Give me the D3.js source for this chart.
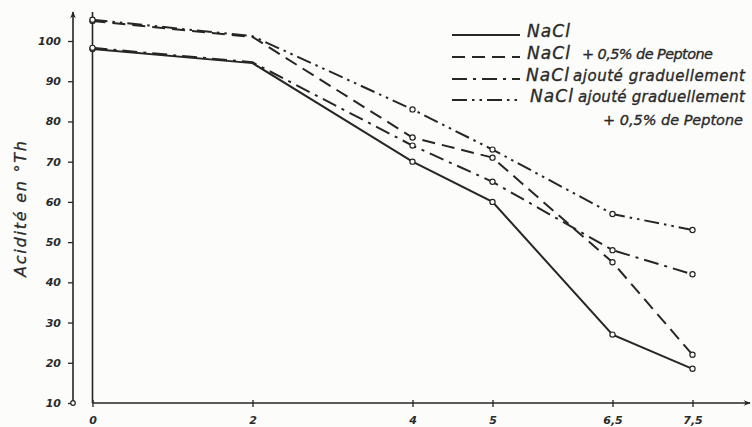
<!DOCTYPE html>
<html>
<head>
<meta charset="utf-8">
<script src="https://cdn.jsdelivr.net/npm/d3@7"></script>
<style>
  html, body { margin: 0; padding: 0; background: #fcfcfa; }
  svg { display: block; }
  text { font-family: "DejaVu Sans", sans-serif; font-style: italic; fill: #2a2a2a; }
</style>
</head>
<body>
<svg id="chart" width="752" height="427"></svg>
<script>
// ---- data ----
const xValues = [0, 2, 4, 5, 6.5, 7.5];
const xTickLabels = ["0", "2", "4", "5", "6,5", "7,5"];
const yTicks = [10, 20, 30, 40, 50, 60, 70, 80, 90, 100];
const seriesNames = ["NaCl", "NaCl + 0,5% de Peptone", "NaCl ajouté graduellement", "NaCl ajouté graduellement + 0,5% de Peptone"];
const naclValues = [98, 94.5, 70, 60, 27, 18.5];
const peptoneValues = [105, 101, 76, 71, 45, 22];
const graduelValues = [98.3, 94.7, 74, 65, 48, 42];
const graduelPeptoneValues = [105.3, 101.2, 83, 73, 57, 53];
const markerShown = [true, false, true, true, true, true];

const svg = d3.select("#chart");
const ink = "#262626";

const x = d3.scaleLinear().domain([0, 7.5]).range([92.5, 692.5]);
const y = d3.scaleLinear().domain([10, 100]).range([403, 41]);

// arrow marker
const defs = svg.append("defs");
defs.append("marker").attr("id", "arrow").attr("viewBox", "0 0 10 10")
  .attr("refX", 9).attr("refY", 5).attr("markerWidth", 9).attr("markerHeight", 7)
  .attr("markerUnits", "userSpaceOnUse").attr("orient", "auto")
  .append("path").attr("d", "M0,1 L10,5 L0,9 L3,5 Z").attr("fill", ink);

// ---- y axis (separate line on the left) ----
const yAxisX = 73;
const yAxis = d3.axisLeft(y).tickValues(yTicks).tickSize(5).tickPadding(7).tickFormat(d3.format("d"));
const gy = svg.append("g").attr("transform", `translate(${yAxisX},0)`).call(yAxis);
gy.select(".domain").remove();
gy.selectAll(".tick line").attr("stroke", ink).attr("stroke-width", 1.3);
gy.selectAll(".tick text").style("font-size", "11px").style("font-weight", "bold")
  .style("font-style", "italic").attr("fill", ink);
svg.append("line").attr("x1", yAxisX).attr("x2", yAxisX).attr("y1", y(10)).attr("y2", 12)
  .attr("stroke", ink).attr("stroke-width", 1.6).attr("marker-end", "url(#arrow)");
svg.append("circle").attr("cx", yAxisX).attr("cy", y(10)).attr("r", 2.3)
  .attr("fill", "#fcfcfa").attr("stroke", ink).attr("stroke-width", 1.2);

// ---- frame left line ----
svg.append("line").attr("x1", x(0)).attr("x2", x(0)).attr("y1", y(10)).attr("y2", 12)
  .attr("stroke", ink).attr("stroke-width", 1.6);

// ---- x axis ----
const xAxis = d3.axisBottom(x).tickValues(xValues).tickSize(4).tickPadding(9)
  .tickFormat((d, i) => xTickLabels[i]);
const gx = svg.append("g").attr("transform", `translate(0,${y(10)})`).call(xAxis);
gx.select(".domain").remove();
gx.selectAll(".tick line").attr("stroke", ink).attr("stroke-width", 1.3).attr("y1", -3);
gx.selectAll(".tick text").style("font-size", "11px").style("font-weight", "bold")
  .style("font-style", "italic").attr("fill", ink);
svg.append("line").attr("x1", x(0)).attr("x2", 750).attr("y1", y(10)).attr("y2", y(10))
  .attr("stroke", ink).attr("stroke-width", 1.6).attr("marker-end", "url(#arrow)");

// ---- y title ----
svg.append("text").attr("transform", `translate(26,209) rotate(-90)`)
  .attr("text-anchor", "middle").style("font-size", "16px")
  .attr("textLength", 136).attr("lengthAdjust", "spacing")
  .attr("stroke", "#2a2a2a").attr("stroke-width", 0.3)
  .text("Acidité en °Th");

// ---- series ----
const series = [
  { values: naclValues, dash: null },
  { values: peptoneValues, dash: "13,7" },
  { values: graduelValues, dash: "15,6,3,6" },
  { values: graduelPeptoneValues, dash: "15,5,2.5,5,2.5,5" }
];
const line = d3.line().x((d, i) => x(xValues[i])).y(d => y(d));
series.forEach(s => {
  svg.append("path").datum(s.values).attr("d", line).attr("fill", "none")
    .attr("stroke", ink).attr("stroke-width", 2).attr("stroke-dasharray", s.dash);
  svg.append("g").selectAll("circle").data(s.values.map((v, i) => ({ v, i })).filter(d => markerShown[d.i]))
    .join("circle").attr("cx", d => x(xValues[d.i])).attr("cy", d => y(d.v)).attr("r", 2.6)
    .attr("fill", "#fcfcfa").attr("stroke", ink).attr("stroke-width", 1.2);
});

// ---- legend ----
const legendRows = [
  { y: 35, dash: null, name: seriesNames[0], nx: 527, rest: null },
  { y: 57, dash: "13,7", name: seriesNames[1], nx: 527, rest: { x: 582, w: 131, s: 14.5 } },
  { y: 79, dash: "15,6,3,6", name: seriesNames[2], nx: 526, rest: { x: 573, w: 172, s: 15 } },
  { y: 100, dash: "15,5,2.5,5,2.5,5", name: seriesNames[3], nx: 530, rest: { x: 578, w: 167, s: 15 } }
];
const lg = svg.append("g").attr("stroke", "#2a2a2a");
legendRows.forEach((r, k) => {
  lg.append("line").attr("x1", 452).attr("x2", 520).attr("y1", r.y).attr("y2", r.y)
    .attr("stroke", ink).attr("stroke-width", 2).attr("stroke-dasharray", r.dash);
  const parts = r.name.split(" + 0,5% de Peptone");
  lg.append("text").attr("x", r.nx).attr("y", r.y + 2).attr("stroke-width", 0.35)
    .style("font-size", "17px").attr("textLength", 43).attr("lengthAdjust", "spacing")
    .text(parts[0].slice(0, 4));
  if (r.rest) {
    const restText = k === 1 ? "+ 0,5% de Peptone" : parts[0].slice(5);
    lg.append("text").attr("x", r.rest.x).attr("y", r.y + 2).attr("stroke-width", 0.35)
      .style("font-size", r.rest.s + "px").attr("textLength", r.rest.w).attr("lengthAdjust", "spacing")
      .text(restText);
  }
  if (k === 3) {
    lg.append("text").attr("x", 603).attr("y", r.y + 25).attr("stroke-width", 0.35)
      .style("font-size", "14.5px").attr("textLength", 140).attr("lengthAdjust", "spacing")
      .text("+ 0,5% de Peptone");
  }
});
</script>
</body>
</html>
